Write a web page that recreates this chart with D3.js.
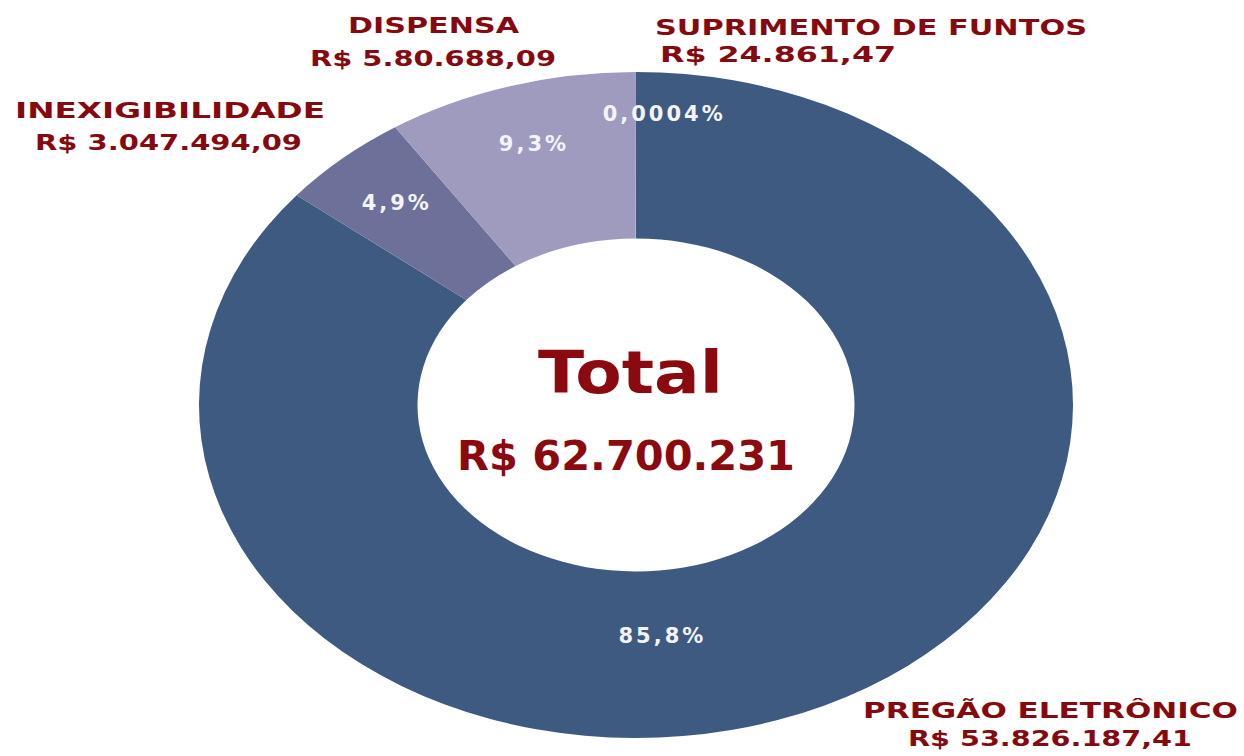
<!DOCTYPE html>
<html>
<head>
<meta charset="utf-8">
<script src="https://cdn.jsdelivr.net/npm/d3@7"></script>
<style>
  html, body { margin: 0; padding: 0; background: #fff; }
  svg { display: block; }
</style>
</head>
<body>
<script>
// Data
const categories = ['PREGÃO ELETRÔNICO', 'INEXIGIBILIDADE', 'DISPENSA', 'SUPRIMENTO DE FUNTOS'];
const values = [53826187.41, 3047494.09, 5800688.09, 24861.47];
const valueLabels = ['R$  53.826.187,41', 'R$ 3.047.494,09', 'R$ 5.80.688,09', 'R$ 24.861,47'];
const percentLabels = ['85,8%', '4,9%', '9,3%', '0,0004%'];
const colors = ['#3e5a81', '#6d7199', '#9e9bbf', '#a19ec1'];
const totalTitle = 'Total';
const totalLabel = 'R$ 62.700.231';

const width = 1244, height = 756;
const cx = 636, cy = 405;
const rx = 437, ry = 333;   // the donut is stretched into an ellipse
const innerRatio = 0.5;

const svg = d3.select('body')
    .append('svg')
    .attr('width', width)
    .attr('height', height);

// Pie layout, clockwise from 12 o'clock, in data order
const pie = d3.pie().sort(null).value(d => d);
const arcs = pie(values);

const arc = d3.arc()
    .innerRadius(ry * innerRatio)
    .outerRadius(ry);

// Slices drawn in a circle then scaled horizontally
const g = svg.append('g')
    .attr('transform', `translate(${cx},${cy}) scale(${rx / ry},1)`);

g.selectAll('path')
    .data(arcs)
    .enter()
    .append('path')
    .attr('d', arc)
    .attr('fill', (d, i) => colors[i]);

// point on the ellipse at angle a (radians from top, clockwise) and relative radius r
function ellipsePoint(a, r) {
    return [cx + rx * r * Math.sin(a), cy - ry * r * Math.cos(a)];
}

// Percent labels: centroid angle, with a few nudged like the original
const labelSpots = {
    0: { angle: 175.3 * Math.PI / 180, r: 0.696 },
    3: { angle: 364 * Math.PI / 180, r: 0.875 }
};

svg.selectAll('text.pct')
    .data(arcs)
    .enter()
    .append('text')
    .attr('class', 'pct')
    .each(function(d, i) {
        const spot = labelSpots[i] || { angle: (d.startAngle + d.endAngle) / 2, r: 0.82 };
        const [x, y] = ellipsePoint(spot.angle, spot.r);
        d3.select(this).attr('x', x + 1.5).attr('y', y);
    })
    .attr('text-anchor', 'middle')
    .attr('dominant-baseline', 'central')
    .attr('fill', '#f3f3f8')
    .style('font-family', '"DejaVu Sans", sans-serif')
    .style('font-weight', 'bold')
    .style('font-size', '21px')
    .style('letter-spacing', '3px')
    .text((d, i) => percentLabels[i]);

// Category name + value labels around the donut
const nameLayout = [
    { x: 863, y: 718, w: 375, vx: 908, vy: 746, vw: 284 },
    { x: 15, y: 118, w: 310, vx: 35, vy: 150, vw: 267 },
    { x: 348, y: 33, w: 171, vx: 310, vy: 66, vw: 246 },
    { x: 655, y: 35, w: 432, vx: 660, vy: 62, vw: 236 }
];

const labelFont = g => g
    .attr('fill', '#850a10')
    .style('font-family', '"DejaVu Sans", sans-serif')
    .style('font-weight', 'bold')
    .style('font-size', '22px')
    .attr('lengthAdjust', 'spacingAndGlyphs');

categories.forEach((name, i) => {
    const p = nameLayout[i];
    svg.append('text')
        .attr('x', p.x).attr('y', p.y)
        .attr('textLength', p.w)
        .call(labelFont)
        .text(name);
    svg.append('text')
        .attr('x', p.vx).attr('y', p.vy)
        .attr('textLength', p.vw)
        .call(labelFont)
        .text(valueLabels[i]);
});

// Centre total
svg.append('text')
    .attr('x', 538).attr('y', 393)
    .attr('textLength', 185)
    .attr('lengthAdjust', 'spacingAndGlyphs')
    .attr('fill', '#8b0a0f')
    .style('font-family', '"DejaVu Sans", sans-serif')
    .style('font-weight', 'bold')
    .style('font-size', '59px')
    .text(totalTitle);

svg.append('text')
    .attr('x', 457).attr('y', 470)
    .attr('textLength', 338)
    .attr('lengthAdjust', 'spacingAndGlyphs')
    .attr('fill', '#8b0a0f')
    .style('font-family', '"DejaVu Sans", sans-serif')
    .style('font-weight', 'bold')
    .style('font-size', '41px')
    .text(totalLabel);
</script>
</body>
</html>
